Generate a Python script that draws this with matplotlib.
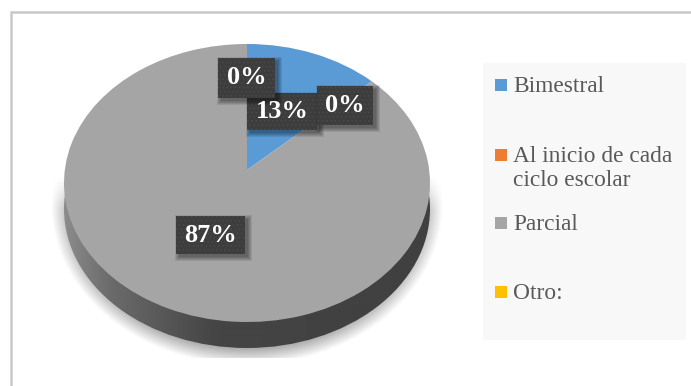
#!/usr/bin/env python3
import matplotlib
matplotlib.use('Agg')
import matplotlib.pyplot as plt
import numpy as np
from matplotlib.patches import Ellipse, Rectangle
from matplotlib.transforms import Transform

plt.rcParams['font.family'] = ['Liberation Serif', 'DejaVu Serif']
plt.rcParams['hatch.linewidth'] = 0.6

# data
categories = ['Bimestral', 'Al inicio de cada\nciclo escolar', 'Parcial', 'Otro:']
values = [13, 0, 87, 0]
colors = ['#5b9bd5', '#ed7d31', '#a5a5a5', '#ffc000']

# label boxes in pixels: left, top, width, height (same order as values)
label_boxes = [(247, 93, 70, 37), (218, 58, 57, 40), (176, 216, 69, 38), (317, 86, 56, 39)]
label_order = [2, 0, 1, 3]

# pie geometry in pixels
CX, APEX_Y = 247, 170
RX, RY, TILT = 182.2, 137.8, 0.0935
DEPTH = 26


class PieTilt(Transform):
    # unit circle to a tilted disc, near side looks bigger
    input_dims = 2
    output_dims = 2

    def transform_non_affine(self, values):
        values = np.asarray(values, dtype=float)
        w = 1 + TILT * values[:, 1]
        return np.column_stack((CX + RX * values[:, 0] / w, APEX_Y - RY * values[:, 1] / w))


def soft_box(ax, x, y, w, h):
    # blurred shadow first, then the box itself
    for grow in np.arange(4, -1, -1):
        ax.add_patch(Rectangle((x + 3 - grow, y + 3 - grow), w + 2 * grow, h + 2 * grow,
                               fc='black', ec='none', alpha=0.09, zorder=5))
    ax.add_patch(Rectangle((x, y), w, h, fc='#3d3d3d', ec='none', zorder=5))
    ax.add_patch(Rectangle((x, y), w, h, fc='none', ec='#4a4a4a', lw=0, hatch='....', zorder=5))


fig = plt.figure(figsize=(6.91, 3.86), dpi=100)
ax = fig.add_axes([0, 0, 1, 1])

wedges, _ = ax.pie(values, colors=colors, startangle=90, counterclock=False,
                   wedgeprops={'linewidth': 0, 'zorder': 3})
tilt = PieTilt()
for wedge in wedges:
    wedge.set_transform(tilt + ax.transData)

ax.set_aspect('auto')
ax.set_xlim(0, 691)
ax.set_ylim(386, 0)
ax.axis('off')

# frame, only top and left are visible
ax.plot([11, 11, 691], [386, 12, 12], color='#c9c9c9', lw=1.8, zorder=1,
        solid_joinstyle='miter')

# soft shadow below the disc
yy, xx = np.mgrid[150:358, 40:455]
r = np.hypot((xx + 0.5 - CX) / 196.0, (yy + 0.5 - 205) / 160.0)
alpha = np.clip((1 - r) / 0.10, 0, 1) * np.clip((yy - 175) / 35.0, 0, 1) * 0.32
shadow = np.zeros(r.shape + (4,))
shadow[..., 3] = alpha
ax.imshow(shadow, extent=(40, 455, 358, 150), aspect='auto', zorder=1, interpolation='bilinear')

# side wall: horizontal gradient clipped to the disc moved down
wall = Ellipse((CX, 183 + DEPTH), 2 * 183, 2 * 139, fc='none', ec='none',
               transform=ax.transData, zorder=2)
ax.add_patch(wall)
grad = np.interp(np.arange(60, 435), [60, 110, 215, 435], [0.56, 0.42, 0.27, 0.25])
im = ax.imshow(grad[np.newaxis, :], extent=(60, 435, 350, 180), aspect='auto', cmap='gray',
               vmin=0, vmax=1, zorder=2, interpolation='bilinear')
im.set_clip_path(wall)
ax.set_xlim(0, 691)
ax.set_ylim(386, 0)

# percentage labels
for i in label_order:
    x, y, w, h = label_boxes[i]
    soft_box(ax, x, y, w, h)
    ax.text(x + w / 2, y + h / 2, f'{values[i]}%', color='white', fontsize=19, fontweight='bold',
            ha='center', va='center', zorder=6)

# legend
ax.add_patch(Rectangle((483, 63), 203, 277, fc='#f8f8f8', ec='none', zorder=1))
legend_y = [85, 155, 223, 292]
for name, color, y in zip(categories, colors, legend_y):
    ax.add_patch(Rectangle((495, y - 6), 12, 12, fc=color, ec='none', zorder=3))
    ax.text(513, y - 9, name, color='#595959', fontsize=16.8, ha='left', va='top',
            linespacing=1.2, zorder=3)

fig.savefig('out.png', dpi=100)
